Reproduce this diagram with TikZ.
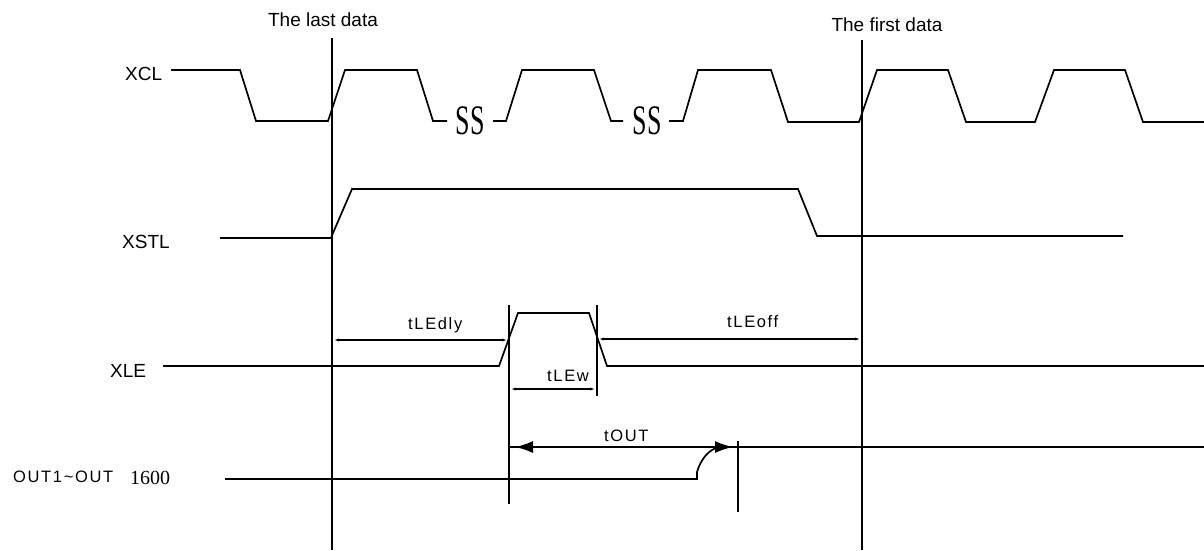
\documentclass[tikz,border=0pt]{standalone}
\usepackage{fontspec}
\usepackage{graphicx}
\setmainfont{Liberation Sans}
\newfontfamily\spacedsans[LetterSpace=10]{Liberation Sans}
\newfontfamily\serifnum{Liberation Serif}
\usetikzlibrary{arrows.meta}
\begin{document}
\begin{tikzpicture}[x=1pt,y=-1pt,
  sig/.style={line width=1.7pt, line join=miter},
  vline/.style={line width=1.7pt},
  dimline/.style={line width=1.7pt, {Latex[length=6pt,width=3pt]}-{Latex[length=6pt,width=3pt]}},
  bigdim/.style={line width=1.7pt, {Latex[length=18pt,width=12pt]}-{Latex[length=18pt,width=12pt]}},
  lab/.style={inner sep=0pt, font=\fontsize{19}{21}\selectfont},
  tlab/.style={inner sep=0pt, font=\spacedsans\fontsize{16.5}{18}\selectfont},
  brk/.style={inner sep=0pt, font=\serifnum\fontsize{42}{44}\selectfont}]
\useasboundingbox (0,0) rectangle (1204,550);

% labels
\node[lab, anchor=base] (lastdata) at (323,26) {The last data};
\node[lab, anchor=base] (firstdata) at (887,31) {The first data};
\node[lab, anchor=base west] (xcl) at (125,80) {XCL};
\node[lab, anchor=base west] (xstl) at (122,248) {XSTL};
\node[lab, anchor=base west] (xle) at (110,377) {XLE};
\node[tlab, anchor=base west] (outlab) at (13,482) {OUT1\textasciitilde OUT};
\node[inner sep=0pt, anchor=base west, font=\serifnum\fontsize{20}{22}\selectfont] (n1600) at (130,484) {1600};

% reference vertical lines
\draw[vline] (332,38) -- (332,550);
\draw[vline] (862,40) -- (862,550);
\draw[vline] (509,305) -- (509,504);
\draw[vline] (597,305) -- (597,396);
\draw[vline] (738,441) -- (738,512);

% XCL
\draw[sig] (171,70) -- (240,70) -- (256,121) -- (328,121) -- (345,70) -- (417,70) -- (433,121) -- (447,121);
\draw[sig] (493,121) -- (506,121) -- (522,70) -- (594,70) -- (611,121) -- (623,121);
\draw[sig] (669,121) -- (683,121) -- (698,70) -- (771,70) -- (788,122) -- (859,122) -- (877,70) -- (948,70) -- (966,122) -- (1035,122) -- (1054,70) -- (1125,70) -- (1143,122) -- (1204,122);
\node[brk] (ss1) at (470,121) {\scalebox{0.62}[1]{SS}};
\node[brk] (ss2) at (647,121) {\scalebox{0.62}[1]{SS}};

% XSTL
\draw[sig] (220,238) -- (331,238) -- (333,233) -- (352,189) -- (798,189) -- (817,236) -- (1123,236);

% XLE
\draw[sig] (163,366) -- (499,366) -- (518,313) -- (589,313) -- (607,366) -- (1204,366);

% dimensions
\draw[dimline] (333,340) -- (508,340);
\draw[dimline] (598,339) -- (861,339);
\draw[dimline] (510,389) -- (596,389);
\node[tlab, anchor=base west] (tledly) at (408,329) {tLEdly};
\node[tlab, anchor=base west] (tleoff) at (727,327) {tLEoff};
\node[tlab, anchor=base west] (tlew) at (547,381) {tLEw};
\node[tlab, anchor=base west] (tout) at (604,441) {tOUT};

% OUT
\draw[sig] (509,447) -- (1204,447);
\draw[bigdim] (515,447) -- (733,447);
\draw[sig] (225,479) -- (697,479) -- (697,472) .. controls (700,462) and (706,452) .. (716,448);
\end{tikzpicture}
\end{document}
